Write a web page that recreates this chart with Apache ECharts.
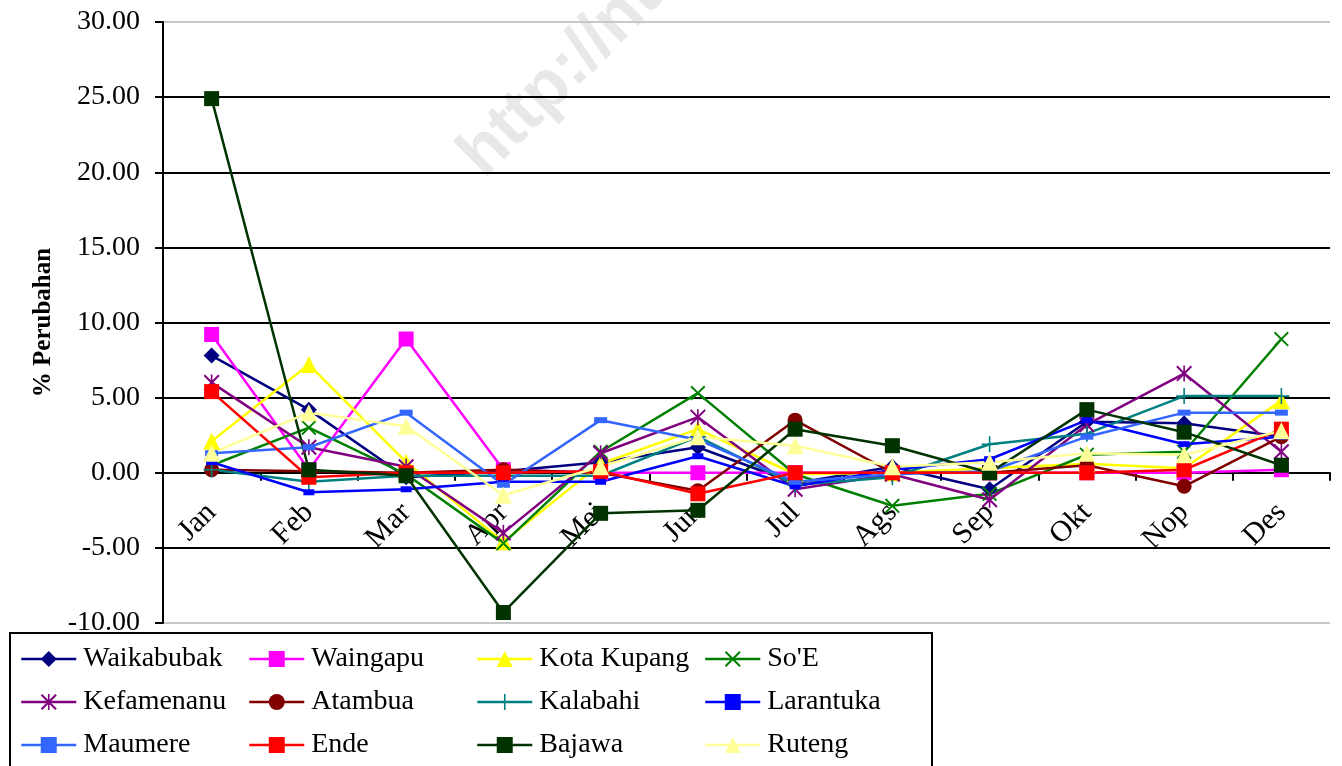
<!DOCTYPE html>
<html>
<head>
<meta charset="utf-8">
<script src="https://cdn.jsdelivr.net/npm/echarts@6/dist/echarts.min.js"></script>
<style>
  html, body { margin: 0; padding: 0; background: #fff; }
  #main { width: 1342px; height: 766px; }
</style>
</head>
<body>
<div id="main"></div>
<script>
var months = ['Jan', 'Feb', 'Mar', 'Apr', 'Mei', 'Jun', 'Jul', 'Ags', 'Sep', 'Okt', 'Nop', 'Des']

var waikabubak = [7.8, 4.2, -0.3, 0.1, 0.7, 1.7, -0.7, 0.4, -1.1, 3.4, 3.3, 2.4]
var waingapu = [9.2, 0.2, 8.9, 0.2, 0.0, 0.0, 0.0, 0.0, 0.0, 0.0, 0.0, 0.2]
var kotaKupang = [2.1, 7.2, 0.7, -4.6, 0.6, 2.9, -0.1, 0.0, 0.3, 0.6, 0.3, 4.8]
var soe = [0.5, 3.0, -0.1, -4.7, 1.4, 5.3, -0.1, -2.2, -1.4, 1.2, 1.4, 8.9]
var kefamenanu = [6.0, 1.7, 0.4, -4.0, 1.3, 3.7, -1.1, -0.1, -1.8, 3.2, 6.6, 1.4]
var atambua = [0.2, 0.1, 0.0, 0.2, 0.0, -1.2, 3.5, 0.0, 0.0, 0.5, -0.9, 2.4]
var kalabahi = [0.2, -0.6, -0.2, -0.2, -0.2, 2.4, -0.8, -0.3, 1.9, 2.6, 5.1, 5.1]
var larantuka = [0.7, -1.3, -1.1, -0.6, -0.6, 1.1, -0.9, 0.2, 0.9, 3.5, 1.9, 2.4]
var maumere = [1.3, 1.7, 4.0, -0.8, 3.5, 2.2, -0.6, -0.1, 0.1, 2.4, 4.0, 4.0]
var ende = [5.4, -0.3, 0.0, 0.0, 0.1, -1.4, 0.0, 0.0, 0.0, 0.0, 0.2, 2.9]
var bajawa = [24.9, 0.2, -0.2, -9.3, -2.7, -2.5, 2.9, 1.8, 0.0, 4.2, 2.7, 0.5]
var ruteng = [1.3, 4.0, 3.1, -1.5, 0.4, 2.4, 1.8, 0.4, 0.7, 1.3, 1.2, 2.8]

var FONT = 'Liberation Serif'

// marker shapes drawn as filled paths
var xMark = 'path://M0,1.8L1.8,0L20,18.2L18.2,20Z M18.2,0L20,1.8L1.8,20L0,18.2Z'
var starMark = 'path://M0,1.8L1.8,0L20,18.2L18.2,20Z M18.2,0L20,1.8L1.8,20L0,18.2Z M9,0H11V20H9Z'
var plusMark = 'path://M9,0H11V9H20V11H11V20H9V11H0V9H9Z'

function line (name, data, color, symbol, size) {
  return {
    name: name,
    type: 'line',
    data: data,
    symbol: symbol,
    symbolSize: size,
    showAllSymbol: true,
    lineStyle: { color: color, width: 2.5 },
    itemStyle: { color: color, borderWidth: 0 },
    emphasis: { disabled: true }
  }
}

var series = [
  line('Waikabubak', waikabubak, '#000080', 'diamond', 16),
  line('Waingapu', waingapu, '#ff00ff', 'rect', 15),
  line('Kota Kupang', kotaKupang, '#ffff00', 'triangle', 17),
  line("So'E", soe, '#008000', xMark, 15),
  line('Kefamenanu', kefamenanu, '#800080', starMark, 16),
  line('Atambua', atambua, '#800000', 'circle', 15),
  line('Kalabahi', kalabahi, '#008080', plusMark, 16),
  line('Larantuka', larantuka, '#0000ff', 'rect', [11, 6]),
  line('Maumere', maumere, '#3366ff', 'rect', [13, 6]),
  line('Ende', ende, '#ff0000', 'rect', 15),
  line('Bajawa', bajawa, '#003300', 'rect', 15),
  line('Ruteng', ruteng, '#ffff99', 'triangle', 17)
]

var legendCols = [
  ['Waikabubak', 'Kefamenanu', 'Maumere'],
  ['Waingapu', 'Atambua', 'Ende'],
  ['Kota Kupang', 'Kalabahi', 'Bajawa'],
  ["So'E", 'Larantuka', 'Ruteng']
]

var legends = legendCols.map(function (names, i) {
  return {
    orient: 'vertical',
    left: 20 + 228 * i,
    top: 645,
    data: names,
    itemWidth: 55,
    itemHeight: 20,
    itemGap: 15,
    selectedMode: false,
    padding: 0,
    lineStyle: { width: 2.5 },
    textStyle: { fontFamily: FONT, fontSize: 28, color: '#000', lineHeight: 28, padding: [0, 0, 0, 2] }
  }
})

var gridColors = ['#c8c8c8', '#000', '#000', '#000', '#000', '#000', '#000', '#000', '#c8c8c8']

var option = {
  animation: false,
  backgroundColor: '#fff',
  grid: [
    { left: 163, right: 12, top: 22, bottom: 143 },
    // second grid only carries the month labels, ending at the zero line
    { left: 163, right: 12, top: 22, height: 451 }
  ],
  legend: legends,
  xAxis: [
    {
      type: 'category',
      data: months,
      boundaryGap: true,
      axisLine: { onZero: true, lineStyle: { color: '#000', width: 2 } },
      axisTick: { show: true, length: 8, lineStyle: { color: '#000', width: 2 } },
      axisLabel: { show: false },
      splitLine: { show: false }
    },
    {
      type: 'category',
      gridIndex: 1,
      data: months,
      boundaryGap: true,
      axisLine: { show: false },
      axisTick: { show: false },
      axisLabel: { rotate: 45, margin: 35, fontFamily: FONT, fontSize: 30, color: '#000', interval: 0 },
      splitLine: { show: false }
    }
  ],
  yAxis: [
    {
      type: 'value',
      min: -10,
      max: 30,
      interval: 5,
      name: '% Perubahan',
      nameLocation: 'middle',
      nameRotate: 90,
      nameGap: 107,
      nameTextStyle: { fontFamily: FONT, fontSize: 25, fontWeight: 'bold', color: '#000' },
      axisLine: { show: true, lineStyle: { color: '#000', width: 2 } },
      axisTick: { show: true, length: 8, lineStyle: { color: '#000', width: 2 } },
      axisLabel: {
        margin: 23,
        fontFamily: FONT,
        fontSize: 28,
        color: '#000',
        formatter: function (v) { return v.toFixed(2) }
      },
      splitLine: { show: true, lineStyle: { color: gridColors, width: 2 } }
    },
    {
      type: 'value',
      gridIndex: 1,
      min: 0,
      max: 1,
      show: false
    }
  ],
  graphic: [
    {
      type: 'text',
      x: 495,
      y: 190,
      rotation: Math.PI / 4,
      z: -1,
      silent: true,
      style: {
        text: 'http://ntt.bps.go.id',
        fill: '#e8e8e8',
        font: 'bold 68px "Liberation Sans"',
        textAlign: 'left',
        textVerticalAlign: 'bottom'
      }
    },
    {
      type: 'rect',
      silent: true,
      shape: { x: 10, y: 633, width: 922, height: 160 },
      style: { fill: 'none', stroke: '#000', lineWidth: 2 }
    }
  ],
  series: series
}

var myChart = echarts.init(document.getElementById('main'))
myChart.setOption(option)
</script>
</body>
</html>
